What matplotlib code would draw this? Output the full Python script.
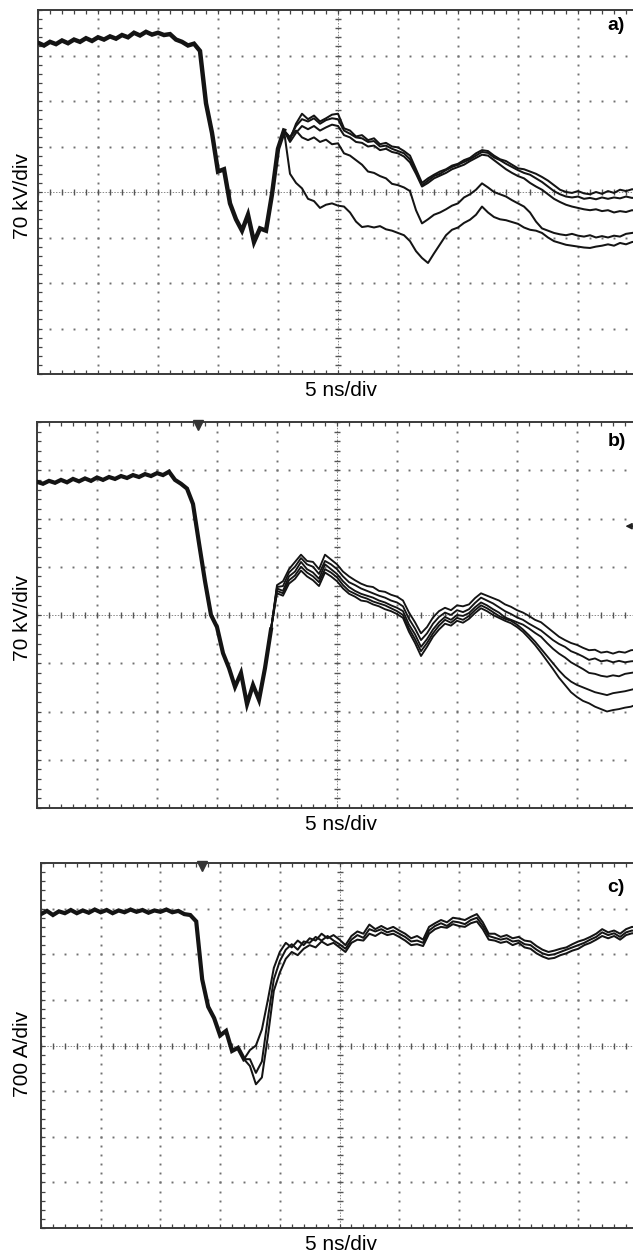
import numpy as np
import matplotlib
matplotlib.use('Agg')
import matplotlib.pyplot as plt

# ---------------- data (divisions: x 0..10, y -4..4) ----------------
panel_labels = ["a)", "b)", "c)"]
y_labels = ["70 kV/div", "70 kV/div", "700 A/div"]
x_label = "5 ns/div"

# panel a: overlapping part of all shots (t = 0 .. 4.1 div)
a_common = [3.28, 3.22, 3.30, 3.25, 3.33, 3.27, 3.35, 3.30, 3.38, 3.32,
            3.40, 3.35, 3.42, 3.37, 3.45, 3.40, 3.50, 3.44, 3.52, 3.46,
            3.50, 3.45, 3.47, 3.35, 3.30, 3.22, 3.26, 3.10, 1.95, 1.30,
            0.45, 0.50, -0.25, -0.60, -0.85, -0.50, -1.10, -0.80, -0.85, -0.05,
            0.95, 1.35]
# panel a: separate shots (t = 4.2 .. 10.0 div)
a_shot1 = [1.15, 1.50, 1.72, 1.60, 1.68, 1.55, 1.62, 1.70,
           1.72, 1.40, 1.35, 1.22, 1.25, 1.14, 1.18, 1.05, 1.08, 1.00,
           0.98, 0.90, 0.80, 0.50, 0.20, 0.30, 0.38, 0.45, 0.50, 0.58,
           0.62, 0.70, 0.75, 0.85, 0.92, 0.90, 0.80, 0.72, 0.68, 0.60,
           0.52, 0.50, 0.45, 0.40, 0.33, 0.25, 0.15, 0.05, 0.00, -0.02,
           0.02, -0.03, -0.05, 0.00, -0.04, 0.02, -0.02, 0.05, 0.02, 0.06,
           0.05]
a_shot2 = [1.20, 1.45, 1.60, 1.55, 1.62, 1.50, 1.58, 1.62,
           1.60, 1.35, 1.28, 1.20, 1.18, 1.10, 1.12, 1.00, 1.02, 0.95,
           0.90, 0.85, 0.72, 0.45, 0.15, 0.25, 0.35, 0.40, 0.48, 0.55,
           0.60, 0.66, 0.72, 0.80, 0.88, 0.86, 0.76, 0.70, 0.62, 0.55,
           0.48, 0.42, 0.38, 0.30, 0.22, 0.12, 0.02, -0.05, -0.10, -0.12,
           -0.10, -0.15, -0.13, -0.16, -0.12, -0.15, -0.12, -0.14, -0.10, -0.13,
           -0.12]
a_shot3 = [1.10, 1.30, 1.45, 1.38, 1.45, 1.35, 1.42, 1.48,
           1.45, 1.25, 1.20, 1.10, 1.08, 1.00, 1.02, 0.92, 0.95, 0.88,
           0.85, 0.78, 0.65, 0.40, 0.12, 0.20, 0.30, 0.36, 0.42, 0.50,
           0.55, 0.60, 0.68, 0.75, 0.82, 0.80, 0.70, 0.60, 0.50, 0.42,
           0.35, 0.30, 0.20, 0.12, 0.05, -0.05, -0.15, -0.22, -0.28, -0.32,
           -0.35, -0.38, -0.40, -0.38, -0.42, -0.40, -0.45, -0.42, -0.44, -0.40,
           -0.42]
a_shot4 = [1.20, 1.35, 1.20, 1.14, 1.20, 1.10, 1.15, 1.05,
           1.07, 0.85, 0.80, 0.70, 0.60, 0.45, 0.42, 0.35, 0.30, 0.18,
           0.15, 0.10, 0.02, -0.40, -0.69, -0.60, -0.50, -0.45, -0.38, -0.30,
           -0.25, -0.12, -0.05, 0.05, 0.19, 0.10, 0.00, -0.05, -0.10, -0.18,
           -0.25, -0.32, -0.45, -0.65, -0.80, -0.85, -0.90, -0.93, -0.95, -0.92,
           -0.96, -0.98, -0.95, -1.00, -0.97, -1.00, -0.96, -0.98, -0.92, -0.90,
           -0.88]
a_shot5 = [0.40, 0.20, 0.08, -0.15, -0.20, -0.35, -0.28, -0.25,
           -0.30, -0.32, -0.45, -0.65, -0.77, -0.75, -0.78, -0.75, -0.82, -0.85,
           -0.90, -0.95, -1.08, -1.30, -1.45, -1.56, -1.35, -1.15, -0.95, -0.83,
           -0.78, -0.68, -0.61, -0.50, -0.32, -0.45, -0.55, -0.60, -0.62, -0.66,
           -0.70, -0.78, -0.83, -0.85, -0.90, -1.00, -1.08, -1.12, -1.16, -1.18,
           -1.20, -1.22, -1.23, -1.20, -1.18, -1.15, -1.18, -1.12, -1.15, -1.10,
           -1.08]

# panel b: overlapping part (t = 0 .. 3.9 div)
b_common = [2.76, 2.72, 2.78, 2.74, 2.80, 2.75, 2.82, 2.77, 2.83, 2.78,
            2.85, 2.80, 2.86, 2.82, 2.88, 2.84, 2.90, 2.86, 2.92, 2.88,
            2.94, 2.90, 2.97, 2.80, 2.72, 2.62, 2.30, 1.49, 0.70, 0.00,
            -0.25, -0.79, -1.10, -1.49, -1.20, -1.85, -1.45, -1.76, -1.10, -0.30]
# panel b: shots (t = 4.0 .. 10.0 div)
b_shot1 = [0.62, 0.70, 0.95, 1.10, 1.25, 1.12, 1.10, 0.95, 1.25, 1.15,
           1.05, 0.90, 0.80, 0.72, 0.65, 0.60, 0.58, 0.50, 0.48, 0.42,
           0.38, 0.30, 0.05, -0.15, -0.38, -0.25, -0.05, 0.08, 0.15, 0.10,
           0.20, 0.18, 0.22, 0.35, 0.45, 0.40, 0.35, 0.30, 0.22, 0.17,
           0.10, 0.05, -0.02, -0.10, -0.15, -0.25, -0.35, -0.45, -0.52, -0.58,
           -0.62, -0.68, -0.73, -0.72, -0.78, -0.76, -0.80, -0.76, -0.78, -0.73,
           -0.72]
b_shot2 = [0.58, 0.60, 0.88, 1.00, 1.18, 1.05, 1.00, 0.85, 1.12, 1.05,
           0.95, 0.80, 0.68, 0.62, 0.55, 0.50, 0.45, 0.40, 0.36, 0.30,
           0.26, 0.18, -0.08, -0.28, -0.52, -0.38, -0.18, -0.04, 0.05, 0.00,
           0.10, 0.06, 0.12, 0.25, 0.36, 0.30, 0.24, 0.16, 0.08, 0.02,
           -0.05, -0.10, -0.18, -0.25, -0.32, -0.42, -0.52, -0.60, -0.66, -0.75,
           -0.80, -0.86, -0.93, -0.90, -0.96, -0.94, -0.98, -0.95, -0.98, -0.96,
           -0.95]
b_shot3 = [0.55, 0.50, 0.80, 0.90, 1.10, 0.95, 0.88, 0.75, 1.05, 0.95,
           0.85, 0.70, 0.58, 0.50, 0.44, 0.40, 0.36, 0.30, 0.26, 0.20,
           0.15, 0.08, -0.20, -0.40, -0.66, -0.50, -0.30, -0.15, -0.04, -0.10,
           0.00, -0.02, 0.04, 0.16, 0.26, 0.20, 0.12, 0.05, -0.05, -0.10,
           -0.15, -0.20, -0.28, -0.37, -0.45, -0.58, -0.70, -0.80, -0.88, -0.98,
           -1.05, -1.12, -1.20, -1.22, -1.26, -1.28, -1.25, -1.27, -1.22, -1.20,
           -1.18]
b_shot4 = [0.50, 0.45, 0.72, 0.82, 1.00, 0.88, 0.80, 0.68, 0.95, 0.88,
           0.78, 0.62, 0.50, 0.44, 0.38, 0.34, 0.28, 0.24, 0.20, 0.14,
           0.08, 0.00, -0.28, -0.50, -0.75, -0.58, -0.38, -0.22, -0.10, -0.16,
           -0.06, -0.10, -0.02, 0.10, 0.20, 0.14, 0.06, -0.02, -0.08, -0.12,
           -0.20, -0.30, -0.42, -0.55, -0.70, -0.85, -1.00, -1.15, -1.28, -1.38,
           -1.45, -1.50, -1.55, -1.60, -1.63, -1.66, -1.62, -1.60, -1.58, -1.55,
           -1.52]
b_shot5 = [0.45, 0.40, 0.65, 0.75, 0.92, 0.80, 0.72, 0.60, 0.88, 0.80,
           0.70, 0.55, 0.44, 0.38, 0.30, 0.28, 0.22, 0.18, 0.12, 0.08,
           0.02, -0.06, -0.35, -0.58, -0.85, -0.66, -0.45, -0.30, -0.18, -0.22,
           -0.12, -0.16, -0.08, 0.04, 0.14, 0.08, 0.00, -0.06, -0.12, -0.17,
           -0.25, -0.35, -0.48, -0.62, -0.78, -0.95, -1.12, -1.30, -1.45, -1.60,
           -1.70, -1.78, -1.83, -1.90, -1.95, -2.00, -1.97, -1.95, -1.92, -1.90,
           -1.85]

# panel c: overlapping part (t = 0 .. 3.4 div)
c_common = [2.88, 2.95, 2.86, 2.94, 2.90, 2.97, 2.90, 2.96, 2.91, 2.98,
            2.92, 2.97, 2.90, 2.96, 2.92, 2.98, 2.93, 2.97, 2.91, 2.96,
            2.93, 2.98, 2.92, 2.95, 2.88, 2.86, 2.72, 1.45, 0.85, 0.60,
            0.22, 0.32, -0.12, -0.05, -0.30]
# panel c: shots (t = 3.5 .. 10.0 div)
c_shot1 = [-0.10, 0.00, 0.35, 1.00, 1.70, 2.05, 2.25, 2.15, 2.30, 2.20,
           2.35, 2.30, 2.45, 2.35, 2.42, 2.32, 2.20, 2.40, 2.50, 2.45,
           2.65, 2.55, 2.62, 2.55, 2.60, 2.52, 2.45, 2.35, 2.40, 2.32,
           2.60, 2.68, 2.75, 2.70, 2.80, 2.78, 2.75, 2.82, 2.88, 2.70,
           2.45, 2.45, 2.38, 2.42, 2.35, 2.38, 2.30, 2.28, 2.18, 2.10,
           2.05, 2.08, 2.12, 2.15, 2.22, 2.28, 2.32, 2.38, 2.45, 2.55,
           2.48, 2.52, 2.45, 2.55, 2.60, 2.58]
c_shot2 = [-0.45, -0.85, -0.70, 0.20, 1.20, 1.60, 1.90, 2.05, 1.98, 2.12,
           2.20, 2.15, 2.28, 2.20, 2.25, 2.15, 2.05, 2.25, 2.32, 2.30,
           2.45, 2.40, 2.48, 2.42, 2.45, 2.38, 2.30, 2.20, 2.22, 2.18,
           2.45, 2.55, 2.60, 2.58, 2.66, 2.62, 2.60, 2.68, 2.72, 2.55,
           2.32, 2.30, 2.25, 2.28, 2.20, 2.25, 2.15, 2.12, 2.02, 1.95,
           1.90, 1.92, 1.98, 2.02, 2.08, 2.12, 2.20, 2.25, 2.32, 2.40,
           2.35, 2.40, 2.32, 2.42, 2.46, 2.45]
c_shot3 = [-0.30, -0.60, -0.35, 0.60, 1.45, 1.85, 2.10, 2.22, 2.10, 2.28,
           2.25, 2.38, 2.30, 2.40, 2.30, 2.22, 2.12, 2.32, 2.42, 2.36,
           2.55, 2.50, 2.55, 2.48, 2.52, 2.45, 2.38, 2.28, 2.30, 2.25,
           2.52, 2.62, 2.68, 2.62, 2.72, 2.70, 2.66, 2.75, 2.80, 2.62,
           2.40, 2.36, 2.32, 2.35, 2.28, 2.30, 2.22, 2.20, 2.10, 2.02,
           1.98, 2.00, 2.05, 2.10, 2.15, 2.20, 2.25, 2.32, 2.38, 2.48,
           2.42, 2.46, 2.38, 2.48, 2.52, 2.50]

# trigger marks (x in div) and reference arrow (y in div) of panel b
trigger_b = 2.68
trigger_c = 2.70
arrow_b_level = 1.84

# ---------------- figure ----------------
W, H = 633, 1256
fig = plt.figure(figsize=(W / 100, H / 100), dpi=100)
plt.rcParams['font.family'] = ['Liberation Sans', 'DejaVu Sans']
TRACE = '#141414'


def add_axes_px(left, top, right, bottom):
    return fig.add_axes([left / W, 1 - bottom / H, (right - left) / W, (bottom - top) / H])


def style(ax):
    ax.set_xlim(0, 10)
    ax.set_ylim(-4, 4)
    ax.set_xticks(np.arange(0, 11, 1))
    ax.set_xticks(np.arange(0, 10.01, 0.2), minor=True)
    ax.set_yticks(np.arange(-4, 5, 1))
    ax.set_yticks(np.arange(-4, 4.01, 0.2), minor=True)
    ax.tick_params(which='both', direction='in', top=True, right=True, bottom=True, left=True,
                   labelbottom=False, labelleft=False, length=3.2, width=0.9, color='#444')
    for s in ax.spines.values():
        s.set_linewidth(1.4)
        s.set_color('#3a3a3a')
    py = np.arange(-4, 4.01, 0.2)
    px = np.arange(0, 10.01, 0.2)
    for gx in [1, 2, 3, 4, 6, 7, 8, 9]:
        ax.plot(np.full_like(py, gx), py, ls='none', marker='s', ms=1.4, color='#707070',
                mec='none', zorder=1)
    for gy in [-3, -2, -1, 1, 2, 3]:
        ax.plot(px, np.full_like(px, gy), ls='none', marker='s', ms=1.4, color='#707070',
                mec='none', zorder=1)
    ax.axhline(0, color='#8a8a8a', lw=0.7, ls=(0, (1.5, 1.5)), zorder=1)
    ax.axvline(5, color='#8a8a8a', lw=0.7, ls=(0, (1.5, 1.5)), zorder=1)
    ax.plot(px, np.zeros_like(px), ls='none', marker='|', ms=5, mew=1.0, color='#555', zorder=1)
    ax.plot(np.full_like(py, 5), py, ls='none', marker='_', ms=5, mew=1.0, color='#555', zorder=1)


def draw_panel(ax, common, t0_common, shots, t0_shot, lw_common, lw_shot):
    tc = np.linspace(t0_common[0], t0_common[1], len(common))
    ax.plot(tc, common, color=TRACE, lw=lw_common, zorder=3, solid_joinstyle='miter')
    for s in shots:
        ts = np.linspace(t0_shot, 10.0, len(s))
        ax.plot(np.concatenate(([tc[-1]], ts)), np.concatenate(([common[-1]], s)),
                color=TRACE, lw=lw_shot, zorder=3)


axa = add_axes_px(38, 10, 638, 374)
axb = add_axes_px(37, 422, 637, 808)
axc = add_axes_px(41, 863, 638, 1228)
for ax in (axa, axb, axc):
    style(ax)

draw_panel(axa, a_common, (0, 4.1), [a_shot1, a_shot2, a_shot3, a_shot4, a_shot5], 4.2, 3.2, 1.45)
draw_panel(axb, b_common, (0, 3.9), [b_shot1, b_shot2, b_shot3, b_shot4, b_shot5], 4.0, 3.0, 1.35)
draw_panel(axc, c_common, (0, 3.4), [c_shot1, c_shot2, c_shot3], 3.5, 3.0, 1.45)

# trigger markers at top
axb.plot([trigger_b], [3.93], marker='v', ms=7, color='#333', clip_on=False, zorder=5)
axc.plot([trigger_c], [3.93], marker='v', ms=7, color='#333', clip_on=False, zorder=5)
# reference arrow in panel b
axb.annotate('', xy=(9.76, arrow_b_level), xytext=(10.1, arrow_b_level),
             arrowprops=dict(arrowstyle='-|>', color='#222', lw=1.1, mutation_scale=9))

# texts
for lab, (x, y) in zip(panel_labels, [(616, 25), (617, 442), (616, 887)]):
    fig.text(x / W, 1 - y / H, lab, ha='center', va='center', fontsize=14, fontweight='bold')
for lab, y in zip(y_labels, [196, 618, 1054]):
    fig.text(22 / W, 1 - y / H, lab, ha='center', va='center', rotation=90, fontsize=15)
for y in [391, 825, 1245]:
    fig.text(341 / W, 1 - y / H, x_label, ha='center', va='center', fontsize=15)

fig.savefig('out.png', dpi=100, facecolor='white')
